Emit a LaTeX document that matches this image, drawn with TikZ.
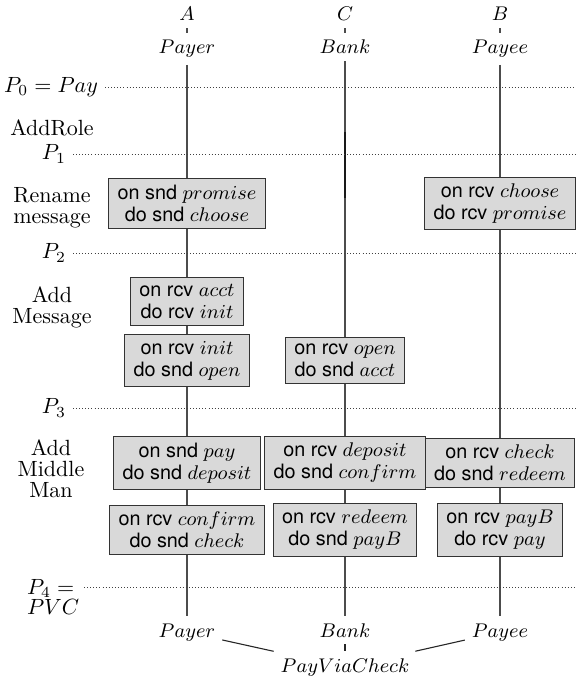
\documentclass[tikz,border=0pt]{standalone}
\usepackage{fontspec}
\setsansfont{TeX Gyre Heros}
\begin{document}
\begin{tikzpicture}[x=0.4545pt, y=-0.4545pt,
  role/.style={font=\small, inner sep=3pt},
  stage/.style={align=center, font=\fontsize{10}{9.5}\selectfont, inner sep=3pt},
  rule/.style={densely dotted, black!75},
  life/.style={black!70, line width=0.5pt},
  link/.style={black!85, line width=0.5pt},
  act/.style={draw=black!80, fill=black!15, line width=0.5pt, align=center,
    inner xsep=4pt, inner ysep=3pt, font=\fontsize{9}{10}\selectfont\sffamily}]
\useasboundingbox (0,0) rectangle (576,679);
\coordinate (R) at (576,0);

% role names and their instances at the top
\node[role, anchor=base] (tA) at (187,21) {$A$};
\node[role, anchor=base] (tC) at (345,21) {$C$};
\node[role, anchor=base] (tB) at (500,21) {$B$};
\node[role, anchor=base] (tPayer) at (187,54) {$Payer$};
\node[role, anchor=base] (tBank)  at (345,54) {$Bank$};
\node[role, anchor=base] (tPayee) at (500,54) {$Payee$};
\draw[life] (tA) -- (tPayer);
\draw[life] (tC) -- (tBank);
\draw[life] (tB) -- (tPayee);

% instances at the bottom and the composed protocol
\node[role, anchor=base] (bPayer) at (187,637) {$Payer$};
\node[role, anchor=base] (bBank)  at (345,637) {$Bank$};
\node[role, anchor=base] (bPayee) at (500,637) {$Payee$};
\node[role, anchor=base] (pvc) at (345,672) {$PayViaCheck$};
\draw[link] (bPayer) -- (pvc);
\draw[link] (bBank) -- (pvc);
\draw[link] (bPayee) -- (pvc);

% lifelines
\draw[life] (tPayer) -- (bPayer);
\draw[life] (tBank) -- (bBank);
\draw[life] (tPayee) -- (bPayee);
\draw[black!90, line width=0.5pt] (345,132) -- (345,198);

% protocol stages and the steps between them
\node[anchor=east, inner sep=3pt] (p0) at (105,87) {$P_0 = Pay$};
\draw[rule] (p0) -- (p0 -| R);
\node[stage] (addrole) at (52,128) {AddRole};
\node[anchor=east, inner sep=3pt] (p1) at (73,154) {$P_1$};
\draw[rule] (p1) -- (p1 -| R);
\node[stage] (rename) at (52,208) {Rename\\message};
\node[anchor=east, inner sep=3pt] (p2) at (73,253) {$P_2$};
\draw[rule] (p2) -- (p2 -| R);
\node[stage] (addmsg) at (52,307) {Add\\Message};
\node[anchor=east, inner sep=3pt] (p3) at (73,408) {$P_3$};
\draw[rule] (p3) -- (p3 -| R);
\node[stage] (addmm) at (51,469) {Add\\Middle\\Man};
\node[stage, align=left, anchor=north west] (p4) at (20,572) {$P_4 =$\\$PVC$};
\coordinate (p4r) at ([xshift=-1pt, yshift=-6.8pt]p4.north east);
\draw[rule] (p4r) -- (p4r -| R);

% rewriting rules attached to the lifelines
\node[act] (ra) at (187,203.5) {on snd $promise$\\do snd $choose$};
\node[act] (rb) at (500,203.5) {on rcv $choose$\\do rcv $promise$};
\node[act] (ma1) at (187,301.7) {on rcv $acct$\\do rcv $init$};
\node[act] (ma2) at (187,360.5) {on rcv $init$\\do snd $open$};
\node[act] (mc) at (345,360.8) {on rcv $open$\\do snd $acct$};
\node[act] (xa1) at (187,463) {on snd $pay$\\do snd $deposit$};
\node[act] (xc1) at (345,463) {on rcv $deposit$\\do snd $confirm$};
\node[act] (xb1) at (500,463) {on rcv $check$\\do snd $redeem$};
\node[act] (xa2) at (187,530) {on rcv $confirm$\\do snd $check$};
\node[act] (xc2) at (345,530) {on rcv $redeem$\\do snd $payB$};
\node[act] (xb2) at (500,530) {on rcv $payB$\\do rcv $pay$};
\end{tikzpicture}
\end{document}
